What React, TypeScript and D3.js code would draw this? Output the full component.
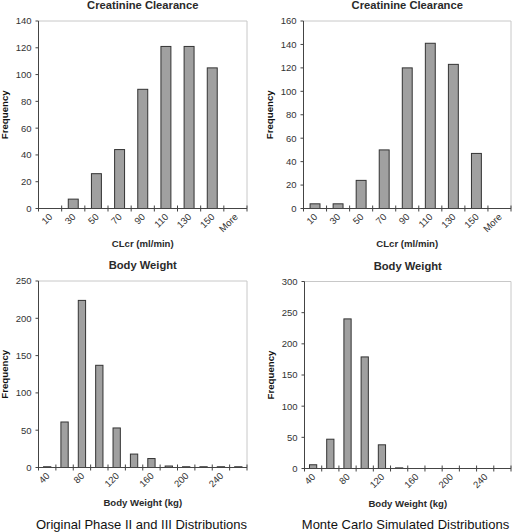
import React from "react";
import * as d3 from "d3";

const clcrCategories = ["10", "30", "50", "70", "90", "110", "130", "150", "More"];
const clcrOriginal = [0, 7, 26, 44, 89, 121, 121, 105, 0];
const clcrSimulated = [4, 4, 24, 50, 120, 141, 123, 47, 0];
const clcrTicksOriginal = [0, 20, 40, 60, 80, 100, 120, 140];
const clcrTicksSimulated = [0, 20, 40, 60, 80, 100, 120, 140, 160];

const bwCategories = ["40", "60", "80", "100", "120", "140", "160", "180", "200", "220", "240", "260"];
const bwLabelShown = ["40", "80", "120", "160", "200", "240"];
const bwOriginal = [1, 61, 224, 137, 53, 18, 12, 2, 1, 1, 1, 1];
const bwSimulated = [6, 47, 240, 179, 38, 1, 0, 0, 0, 0, 0, 0];
const bwTicksOriginal = [0, 50, 100, 150, 200, 250];
const bwTicksSimulated = [0, 50, 100, 150, 200, 250, 300];

const captions = ["Original Phase II and III Distributions", "Monte Carlo Simulated Distributions"];

const FONT = "'Liberation Sans', Arial, sans-serif";

type PanelProps = {
  title: string;
  xTitle: string;
  cats: string[];
  shown: string[];
  values: number[];
  ticks: number[];
  x0: number;
  x1: number;
  yTop: number;
  yBottom: number;
  barRatio: number;
};

function Panel(p: PanelProps) {
  const x = d3.scaleBand<string>().domain(p.cats).range([p.x0, p.x1]).padding(0);
  const y = d3
    .scaleLinear()
    .domain([0, p.ticks[p.ticks.length - 1]])
    .range([p.yBottom, p.yTop]);
  const bw = x.bandwidth();
  const barW = bw * p.barRatio;
  const cx = (p.x0 + p.x1) / 2;
  const cy = (p.yTop + p.yBottom) / 2;
  const boundaries = p.cats.map((c) => x(c) as number).concat([p.x1]);
  return (
    <g>
      <text x={cx} y={p.yTop - 11.7} textAnchor="middle" fontSize={11.2} fontWeight={700} fill="#2a2a2a" fontFamily={FONT}>
        {p.title}
      </text>
      {/* frame */}
      <line x1={p.x0} x2={p.x1} y1={p.yTop} y2={p.yTop} stroke="#c8c8c8" strokeWidth={1} />
      <line x1={p.x1} x2={p.x1} y1={p.yTop} y2={p.yBottom} stroke="#c8c8c8" strokeWidth={1} />
      {/* bars */}
      {p.values.map((v, i) =>
        v > 0 ? (
          <rect
            key={i}
            x={(x(p.cats[i]) as number) + (bw - barW) / 2}
            y={y(v)}
            width={barW}
            height={p.yBottom - y(v)}
            fill="#a0a0a0"
            stroke="#333"
            strokeWidth={1}
          />
        ) : null
      )}
      {/* axes */}
      <line x1={p.x0} x2={p.x0} y1={p.yTop} y2={p.yBottom} stroke="#444" strokeWidth={1} />
      <line x1={p.x0} x2={p.x1} y1={p.yBottom} y2={p.yBottom} stroke="#444" strokeWidth={1} />
      {p.ticks.map((t) => (
        <g key={t}>
          <line x1={p.x0 - 3} x2={p.x0} y1={y(t)} y2={y(t)} stroke="#444" />
          <text x={p.x0 - 7} y={y(t) + 3.4} textAnchor="end" fontSize={9.5} fill="#333" fontFamily={FONT}>
            {t}
          </text>
        </g>
      ))}
      {boundaries.map((b, i) => (
        <line key={i} x1={b} x2={b} y1={p.yBottom - 3} y2={p.yBottom + 3} stroke="#444" />
      ))}
      {p.cats.map((c) =>
        p.shown.includes(c) ? (
          <text
            key={c}
            transform={`translate(${(x(c) as number) + bw / 2 + 3},${p.yBottom + 9}) rotate(-45)`}
            textAnchor="end"
            fontSize={9.5}
            fill="#333"
            fontFamily={FONT}
          >
            {c}
          </text>
        ) : null
      )}
      <text
        transform={`translate(${p.x0 - 30.5},${cy}) rotate(-90)`}
        textAnchor="middle"
        fontSize={9.7}
        fontWeight={700}
        fill="#111"
        fontFamily={FONT}
      >
        Frequency
      </text>
      <text x={cx} y={p.yBottom + 38} textAnchor="middle" fontSize={9.6} fontWeight={700} fill="#2a2a2a" fontFamily={FONT}>
        {p.xTitle}
      </text>
    </g>
  );
}

export default function App() {
  return (
    <svg
      width={512}
      height={532}
      style={{ position: "absolute", left: 0, top: 0, background: "#fff" }}
    >
      <rect width={512} height={532} fill="#fff" />
      <Panel
        title="Creatinine Clearance"
        xTitle="CLcr (ml/min)"
        cats={clcrCategories}
        shown={clcrCategories}
        values={clcrOriginal}
        ticks={clcrTicksOriginal}
        x0={38.5}
        x1={247}
        yTop={21}
        yBottom={208.5}
        barRatio={0.43}
      />
      <Panel
        title="Creatinine Clearance"
        xTitle="CLcr (ml/min)"
        cats={clcrCategories}
        shown={clcrCategories}
        values={clcrSimulated}
        ticks={clcrTicksSimulated}
        x0={303.5}
        x1={511}
        yTop={21}
        yBottom={208.5}
        barRatio={0.43}
      />
      <Panel
        title="Body Weight"
        xTitle="Body Weight (kg)"
        cats={bwCategories}
        shown={bwLabelShown}
        values={bwOriginal}
        ticks={bwTicksOriginal}
        x0={38.5}
        x1={247}
        yTop={281}
        yBottom={467.5}
        barRatio={0.42}
      />
      <Panel
        title="Body Weight"
        xTitle="Body Weight (kg)"
        cats={bwCategories}
        shown={bwLabelShown}
        values={bwSimulated}
        ticks={bwTicksSimulated}
        x0={304.5}
        x1={511}
        yTop={281.5}
        yBottom={468.5}
        barRatio={0.42}
      />
      <text x={141.5} y={529.3} textAnchor="middle" fontSize={13} fill="#111" fontFamily={FONT}>
        {captions[0]}
      </text>
      <text x={405.5} y={529.3} textAnchor="middle" fontSize={13} fill="#111" fontFamily={FONT}>
        {captions[1]}
      </text>
    </svg>
  );
}
